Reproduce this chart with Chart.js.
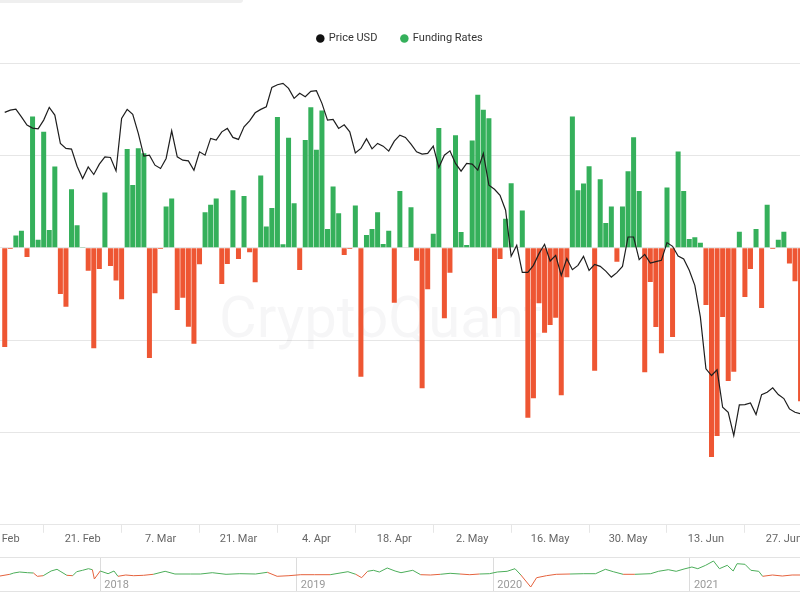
<!DOCTYPE html>
<html>
<head>
<meta charset="utf-8">
<script src="https://cdn.jsdelivr.net/npm/chart.js@4.4.1/dist/chart.umd.min.js"></script>
<style>
  html, body { margin: 0; padding: 0; background: #fff; overflow: hidden; }
  #wrap { position: relative; width: 800px; height: 600px; }
  #topbar { position: absolute; left: 0; top: 0; width: 243px; height: 3px; background: #efefef; border-bottom-right-radius: 3px; }
  #main { position: absolute; left: 0; top: 0; }
  #nav { position: absolute; left: 0; top: 557px; width: 800px; height: 35px; box-sizing: border-box;
         border-top: 1px solid #e3e3e3; border-bottom: 1px solid #e3e3e3; }
  #navChart { display: block; }
</style>
</head>
<body>
<div id="wrap">
  <div id="topbar"></div>
  <canvas id="main" width="800" height="546"></canvas>
  <div id="nav"><canvas id="navChart" width="800" height="33"></canvas></div>
</div>
<script>
// daily values, day 0 = 7 Feb 2021
const tickDays = [0, 14, 28, 42, 56, 70, 84, 98, 112, 126, 140];
const tickLabels = ['7. Feb', '21. Feb', '7. Mar', '21. Mar', '4. Apr', '18. Apr', '2. May', '16. May', '30. May', '13. Jun', '27. Jun'];

const fundingRates = [
  -0.01075, -0.00013, 0.00131, 0.00185, -0.00100, 0.01420, 0.00085, 0.01255, 0.00193, 0.00879,
  -0.00501, -0.00638, 0.00634, 0.00244, 0.00003, -0.00248, -0.01089, -0.00230, 0.00597, -0.00197,
  -0.00356, -0.00558, 0.01070, 0.00680, 0.01078, 0.01024, -0.01194, -0.00493, -0.00013, 0.00445,
  0.00532, -0.00674, -0.00541, -0.00855, -0.01039, -0.00179, 0.00385, 0.00464, 0.00532, -0.00392,
  -0.00176, 0.00623, -0.00121, 0.00561, -0.00049, -0.00374, 0.00781, 0.00231, 0.00431, 0.01414,
  0.00038, 0.01190, 0.00482, -0.00241, 0.01165, 0.01522, 0.01060, 0.01485, 0.00204, 0.00662,
  0.00374, -0.00078, -0.00013, 0.00456, -0.01397, 0.00139, 0.00204, 0.00385, 0.00041, 0.00185,
  -0.00595, 0.00615, 0, 0.00439, -0.00140, -0.01522, -0.00450, 0.00150, 0.01295, -0.00764,
  -0.00270, 0.01219, 0.00171, 0.00030, 0.01160, 0.01655, 0.01493, 0.01403, -0.00764, -0.00121,
  0.00315, 0.00699, 0, 0.00402, -0.01841, -0.01631, -0.00600, -0.00920, -0.00836, -0.00757,
  -0.01598, -0.00320, 0.01420, 0.00623, 0.00694, 0.00883, -0.01332, 0.00742, 0.00269, 0.00445,
  -0.00151, 0.00445, 0.00829, 0.01197, 0.00615, -0.01349, -0.00371, -0.00858, -0.01143, 0.00651,
  -0.00966, 0.01041, 0.00615, 0.00095, 0.00114, 0.00055, -0.00620, -0.02267, -0.02039, -0.00750,
  -0.01443, -0.01342, 0.00174, -0.00533, -0.00230, 0.00204, -0.00652, 0.00464, -0.00013, 0.00085,
  0.00174, -0.00172, -0.00363, -0.01663
];

const prices = [
  56170, 56400, 56500, 55730, 54900, 54600, 54530, 55400, 56670, 55900,
  53070, 52570, 52500, 50800, 49570, 50730, 49970, 51000, 51730, 51670,
  50330, 55570, 56470, 55970, 54070, 51800, 51900, 50900, 50570, 51570,
  54330, 51730, 51400, 51330, 50400, 52230, 51900, 53570, 53400, 54230,
  54570, 53670, 53470, 54730, 55330, 56130, 56470, 56730, 58670, 58930,
  59070, 58570, 57570, 58070, 57730, 58270, 58330, 57070, 55400, 55470,
  54570, 54930, 54230, 52130, 52570, 53530, 52530, 53070, 52800, 52300,
  53300, 53900, 53670, 53000, 52230, 52000, 52070, 52800, 50670, 51900,
  52330, 51070, 50300, 51070, 51000, 50400, 52070, 48900, 48500, 47900,
  46400, 41800, 42900, 40200, 40200, 40900, 42070, 43000, 41330, 41900,
  39900, 41570, 40470, 40900, 41800, 40400, 41000, 40800, 40330, 39730,
  40170, 40800, 43730, 43730, 41470, 42000, 41130, 41270, 41400, 43170,
  42800, 41830, 41530, 40400, 38900, 35730, 30570, 29900, 30470, 26730,
  26230, 23900, 26970, 27000, 27170, 26000, 28000, 28230, 28670, 28000,
  27600, 26570, 26230, 26070
];

// navigator: full history (decimal year, funding in bp)
const navYears = [2018, 2019, 2020, 2021];
const navTimes = [
  2017.49, 2017.54, 2017.56, 2017.59, 2017.63, 2017.66, 2017.68, 2017.71, 2017.75, 2017.78,
  2017.80, 2017.83, 2017.86, 2017.88, 2017.91, 2017.94, 2017.96, 2017.97, 2018.00, 2018.04,
  2018.07, 2018.09, 2018.13, 2018.17, 2018.22, 2018.27, 2018.33, 2018.38, 2018.46, 2018.51,
  2018.57, 2018.64, 2018.71, 2018.79, 2018.85, 2018.90, 2018.96, 2019.02, 2019.09, 2019.17,
  2019.26, 2019.30, 2019.33, 2019.36, 2019.39, 2019.42, 2019.46, 2019.50, 2019.53, 2019.59,
  2019.63, 2019.68, 2019.73, 2019.78, 2019.83, 2019.88, 2019.93, 2019.98, 2020.02, 2020.07,
  2020.11, 2020.14, 2020.19, 2020.22, 2020.27, 2020.32, 2020.39, 2020.46, 2020.52, 2020.57,
  2020.61, 2020.66, 2020.72, 2020.80, 2020.84, 2020.89, 2020.93, 2020.97, 2021.01, 2021.04,
  2021.08, 2021.12, 2021.15, 2021.19, 2021.22, 2021.24, 2021.28, 2021.31, 2021.35, 2021.37,
  2021.42, 2021.47, 2021.52, 2021.56
];
const navFunding = [
  -2.0, -0.3, 1.0, 2.0, 1.3, 1.0, -2.3, -1.7, 3.0, 4.7,
  2.3, -1.3, -1.7, 2.3, 3.7, 5.3, 4.3, -5.0, 3.0, 0.3,
  3.0, -2.3, -1.0, -1.7, -1.3, -0.3, 2.7, 0, 0, 0,
  1.3, -0.3, 0.3, 0, 1.7, -2.3, -1.7, -0.7, -0.7, -0.7,
  2.3, -0.3, -3.7, 2.7, 3.7, 2.0, 6.0, 3.0, 1.3, 3.7,
  -0.7, -1.0, -0.3, 0.7, 0, -0.7, 0, 0.3, 2.0, 2.7,
  5.3, -1.0, -13.0, -3.7, -1.7, -0.3, 0, 0.3, 0.3, 4.7,
  2.3, -0.3, -0.3, 0.3, 2.7, 4.3, 2.7, 5.0, 7.0, 5.3,
  8.7, 13.0, 5.3, 8.7, 3.0, 10.3, 9.7, 3.7, 2.7, -2.3,
  -1.0, -2.0, -1.0, -1.0
];

const GREEN = '#35b05b';
const RED = '#ee5633';
const GRID = '#e6e6e6';
const FONT = 'Roboto';

// extra room between legend and plot
const legendSpacer = {
  id: 'legendSpacer',
  beforeInit(chart) {
    const fit = chart.legend.fit;
    chart.legend.fit = function () {
      fit.call(this);
      this.height += 9;
    };
  }
};

const watermark = {
  id: 'watermark',
  beforeDatasetsDraw(chart) {
    const { ctx, chartArea } = chart;
    ctx.save();
    ctx.font = '400 58px ' + FONT;
    ctx.fillStyle = 'rgba(40, 40, 80, 0.045)';
    ctx.textAlign = 'center';
    ctx.fillText('CryptoQuant', chartArea.left + chartArea.width * 0.476, 322);
    ctx.restore();
  }
};

new Chart(document.getElementById('main'), {
  type: 'bar',
  data: {
    datasets: [
      {
        type: 'line',
        label: 'Price USD',
        data: prices.map((v, i) => ({ x: i, y: v })),
        yAxisID: 'price',
        borderColor: '#1e1e1e',
        backgroundColor: '#111',
        borderWidth: 1.2,
        pointRadius: 0,
        tension: 0,
        order: 0
      },
      {
        type: 'bar',
        label: 'Funding Rates',
        data: fundingRates.map((v, i) => ({ x: i, y: v })),
        yAxisID: 'funding',
        backgroundColor: fundingRates.map(v => v >= 0 ? GREEN : RED),
        barPercentage: 0.9,
        categoryPercentage: 1,
        order: 1
      }
    ]
  },
  options: {
    responsive: false,
    animation: false,
    layout: { padding: { top: 9, left: 0, right: 0, bottom: 0 } },
    plugins: {
      tooltip: { enabled: false },
      legend: {
        position: 'top',
        labels: {
          usePointStyle: true,
          pointStyle: 'circle',
          boxWidth: 6,
          boxHeight: 6,
          padding: 24,
          color: '#333',
          font: { family: FONT, size: 11 },
          generateLabels: chart => {
            const items = Chart.defaults.plugins.legend.labels.generateLabels(chart);
            const colors = ['#111', GREEN];
            items.forEach((it, i) => {
              it.fillStyle = colors[i];
              it.strokeStyle = colors[i];
              it.lineWidth = 0;
            });
            return items;
          }
        }
      }
    },
    scales: {
      x: {
        type: 'linear',
        min: -0.85,
        max: 142.9,
        offset: false,
        grid: { drawOnChartArea: false, drawTicks: true, tickLength: 8, color: GRID },
        border: { display: true, color: GRID },
        ticks: {
          padding: 0,
          color: '#666',
          font: { family: FONT, size: 11 },
          maxRotation: 0,
          autoSkip: false,
          callback: (v, i) => tickLabels[i]
        },
        afterBuildTicks: s => { s.ticks = tickDays.map(v => ({ value: v })); },
        afterFit: s => { s.paddingLeft = 0; s.paddingRight = 0; }
      },
      funding: {
        position: 'left',
        min: -0.03,
        max: 0.02,
        ticks: { display: false, stepSize: 0.01 },
        grid: { color: GRID, drawTicks: false },
        border: { display: false }
      },
      price: {
        position: 'right',
        display: false,
        min: 15000,
        max: 61100
      }
    }
  },
  plugins: [legendSpacer, watermark]
});

const yearLabels = {
  id: 'yearLabels',
  afterDatasetsDraw(chart) {
    const { ctx, chartArea, scales } = chart;
    ctx.save();
    ctx.font = '11px ' + FONT;
    ctx.fillStyle = '#999';
    ctx.textAlign = 'left';
    navYears.forEach(y => {
      ctx.fillText(String(y), scales.x.getPixelForValue(y) + 4, chartArea.bottom - 3);
    });
    ctx.restore();
  }
};

new Chart(document.getElementById('navChart'), {
  type: 'line',
  data: {
    datasets: [{
      data: navTimes.map((t, i) => ({ x: t, y: navFunding[i] })),
      borderColor: '#e5623d',
      borderWidth: 1,
      pointRadius: 0,
      tension: 0,
      segment: {
        borderColor: c => (c.p0.parsed.y + c.p1.parsed.y) >= 0 ? '#4cae5a' : '#e5623d'
      }
    }]
  },
  options: {
    responsive: false,
    animation: false,
    plugins: { legend: { display: false }, tooltip: { enabled: false } },
    scales: {
      x: {
        type: 'linear',
        min: 2017.49,
        max: 2021.56,
        grid: { color: '#dcdcdc', drawTicks: false },
        border: { display: false },
        ticks: { display: false },
        afterBuildTicks: s => { s.ticks = navYears.map(v => ({ value: v })); }
      },
      y: { display: false, min: -17, max: 16 }
    }
  },
  plugins: [yearLabels]
});
</script>
</body>
</html>
